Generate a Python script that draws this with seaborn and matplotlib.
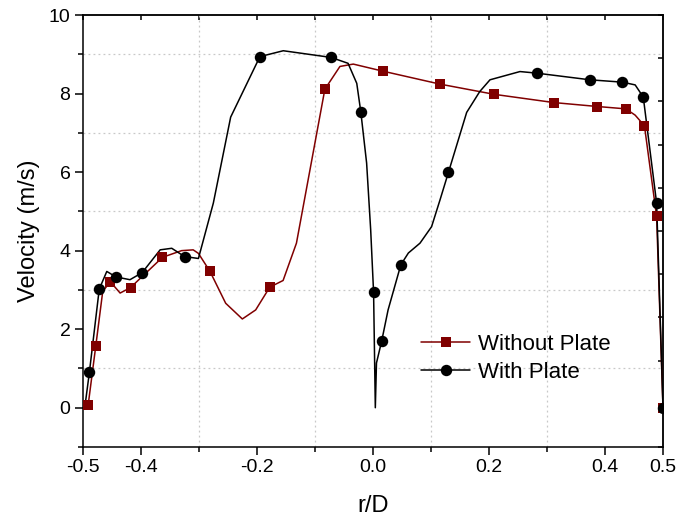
import numpy as np
import pandas as pd
import matplotlib
matplotlib.use("Agg")
import matplotlib.pyplot as plt
from matplotlib.lines import Line2D
from matplotlib.ticker import FixedLocator
import seaborn as sns

# ---- data ----
without_line_x = [-0.491, -0.478, -0.466, -0.453, -0.436, -0.418, -0.363, -0.33, -0.31, -0.301,
                  -0.281, -0.254, -0.2253, -0.2023, -0.178, -0.155, -0.132, -0.097, -0.083,
                  -0.057, -0.034, 0.017, 0.1155, 0.209, 0.312, 0.387, 0.436, 0.452, 0.468,
                  0.489, 0.5]
without_line_y = [0.08, 1.57, 2.96, 3.21, 2.92, 3.06, 3.83, 4.0, 4.02, 3.93,
                  3.47, 2.66, 2.26, 2.49, 3.07, 3.24, 4.19, 6.99, 8.11,
                  8.69, 8.75, 8.57, 8.24, 7.98, 7.77, 7.67, 7.61, 7.45, 7.18,
                  4.87, 0.0]
without_mark_x = [-0.491, -0.478, -0.453, -0.418, -0.363, -0.281, -0.178, -0.083, 0.017,
                  0.1155, 0.209, 0.312, 0.387, 0.436, 0.468, 0.489, 0.5]
without_mark_y = [0.08, 1.57, 3.21, 3.06, 3.83, 3.47, 3.07, 8.11, 8.57,
                  8.24, 7.98, 7.77, 7.67, 7.61, 7.18, 4.87, 0.0]

with_line_x = [-0.497, -0.489, -0.472, -0.459, -0.443, -0.419, -0.398, -0.367, -0.347, -0.325,
               -0.301, -0.2753, -0.2454, -0.195, -0.1547, -0.0724, -0.043, -0.028, -0.021,
               -0.011, -0.004, 0.001, 0.004, 0.006, 0.015, 0.026, 0.048, 0.061, 0.081,
               0.101, 0.1155, 0.130, 0.1615, 0.184, 0.2017, 0.2534, 0.282, 0.374, 0.430,
               0.452, 0.466, 0.489, 0.5]
with_line_y = [0.0, 0.90, 3.02, 3.47, 3.33, 3.26, 3.44, 4.02, 4.06, 3.85,
               3.80, 5.21, 7.40, 8.94, 9.09, 8.92, 8.77, 8.26, 7.53,
               6.23, 4.53, 2.94, 0.0, 1.14, 1.70, 2.49, 3.64, 3.94, 4.19,
               4.61, 5.29, 5.99, 7.52, 8.05, 8.35, 8.56, 8.52, 8.35, 8.29,
               8.22, 7.91, 5.21, 0.0]
with_mark_x = [-0.489, -0.472, -0.443, -0.398, -0.325, -0.195, -0.0724, -0.021, 0.001,
               0.015, 0.048, 0.130, 0.282, 0.374, 0.430, 0.466, 0.489, 0.5]
with_mark_y = [0.90, 3.02, 3.33, 3.44, 3.85, 8.94, 8.92, 7.53, 2.94,
               1.70, 3.64, 5.99, 8.52, 8.35, 8.29, 7.91, 5.21, 0.0]

series_names = ["Without Plate", "With Plate"]
x_major = [-0.5, -0.4, -0.2, 0.0, 0.2, 0.4, 0.5]
x_minor = [-0.3, -0.1, 0.1, 0.3]
y_major = [0, 2, 4, 6, 8, 10]
y_minor = [-1, 1, 3, 5, 7, 9]

RED = "#800000"
BLACK = "#000000"

sns.set_style("ticks")
plt.rcParams["font.family"] = ["Liberation Sans", "DejaVu Sans"]
plt.rcParams["text.color"] = "black"
plt.rcParams["axes.labelcolor"] = "black"
plt.rcParams["xtick.color"] = "black"
plt.rcParams["ytick.color"] = "black"

fig = plt.figure(figsize=(6.8, 5.21), dpi=100)
ax = fig.add_axes([83 / 680, 1 - 447 / 521, 580 / 680, 432 / 521])

df_wo = pd.DataFrame({"x": without_line_x, "y": without_line_y})
df_w = pd.DataFrame({"x": with_line_x, "y": with_line_y})
dm_wo = pd.DataFrame({"x": without_mark_x, "y": without_mark_y})
dm_w = pd.DataFrame({"x": with_mark_x, "y": with_mark_y})

sns.lineplot(data=df_wo, x="x", y="y", ax=ax, color=RED, lw=1.1, sort=False,
             estimator=None, zorder=3)
sns.lineplot(data=df_w, x="x", y="y", ax=ax, color=BLACK, lw=1.1, sort=False,
             estimator=None, zorder=4)
sns.scatterplot(data=dm_wo, x="x", y="y", ax=ax, color=RED, marker="s", s=52,
                linewidth=0, zorder=5)
sns.scatterplot(data=dm_w, x="x", y="y", ax=ax, color=BLACK, marker="o", s=68,
                linewidth=0, zorder=6)

ax.set_xlim(-0.5, 0.5)
ax.set_ylim(-1, 10)
ax.xaxis.set_major_locator(FixedLocator(x_major))
ax.xaxis.set_minor_locator(FixedLocator(x_minor))
ax.yaxis.set_major_locator(FixedLocator(y_major))
ax.yaxis.set_minor_locator(FixedLocator(y_minor))
ax.set_xticklabels(["-0.5", "-0.4", "-0.2", "0.0", "0.2", "0.4", "0.5"])
ax.set_yticklabels([str(v) for v in y_major])
ax.tick_params(axis="both", which="major", direction="out", length=6, width=1.1,
               labelsize=14, pad=3, colors="black")
ax.tick_params(axis="both", which="minor", direction="out", length=3.5, width=1.1)
ax.grid(False)
ax.grid(which="minor", axis="both", linestyle=(0, (1.5, 2.5)), color="#c8c8c8", lw=0.9)
ax.set_axisbelow(True)

for s in ax.spines.values():
    s.set_linewidth(1.1)
    s.set_color("black")
    s.set_visible(True)

# top and right axes with inward ticks, no labels
top = ax.secondary_xaxis("top")
top.set_xticks(np.round(np.arange(-0.5, 0.51, 0.1), 2))
top.tick_params(direction="in", length=3.5, width=1.1, labeltop=False)
top.spines["top"].set_linewidth(1.1)
right = ax.secondary_yaxis("right", functions=(lambda y: (y + 1) * 10 / 11,
                                               lambda z: z * 11 / 10 - 1))
right.set_yticks(np.arange(0, 11, 1))
right.tick_params(direction="in", length=3.5, width=1.1, labelright=False)
right.spines["right"].set_linewidth(1.1)

ax.set_xlabel("r/D", fontsize=17, labelpad=13)
ax.set_ylabel("Velocity (m/s)", fontsize=17, labelpad=6)

handles = [Line2D([], [], color=RED, lw=1.1, marker="s", ms=7.2, mew=0),
           Line2D([], [], color=BLACK, lw=1.1, marker="o", ms=8.2, mew=0)]
ax.legend(handles, series_names, loc="upper left", bbox_to_anchor=(0.583, 0.261),
          frameon=False, fontsize=16, borderpad=0, borderaxespad=0,
          handlelength=2.2, handletextpad=0.35, labelspacing=0.3)

fig.savefig("out.png", dpi=100)
